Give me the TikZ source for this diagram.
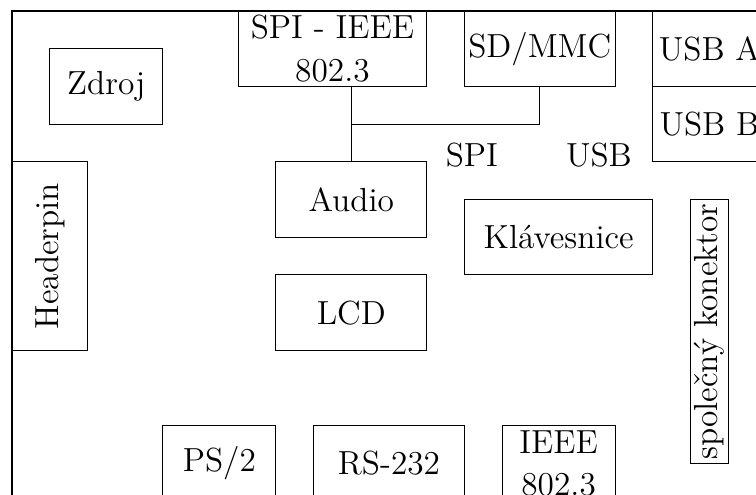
\documentclass[tikz,border=0pt]{standalone}
\usepackage{fontspec}
\begin{document}
\begin{tikzpicture}[x=0.5cm,y=-0.5cm,line width=0.4pt,
  every node/.style={font=\fontsize{12.6}{16}\selectfont},
  box/.style={draw,inner sep=0pt,align=center},
  lbl/.style={inner sep=0pt}]
\useasboundingbox (-0.318,-0.292) rectangle (19.735,12.838);
% outer frame
\draw (0,14) -- (0,0) -- (21,0);
% boxes
\node[box,minimum width=1.5cm,minimum height=1cm] (zdroj) at (2.5,2) {Zdroj};
\node[box,minimum width=2.5cm,minimum height=1cm] (spi) at (8.5,1) {SPI - IEEE\\802.3};
\node[box,minimum width=2cm,minimum height=1cm] (sd) at (14,1) {SD/MMC};
\node[box,minimum width=1.5cm,minimum height=1cm] (usba) at (18.5,1) {USB A};
\node[box,minimum width=1.5cm,minimum height=1cm] (usbb) at (18.5,3) {USB B};
\node[box,minimum width=2.5cm,minimum height=1cm,rotate=90] (head) at (1,6.5) {Headerpin};
\node[box,minimum width=2cm,minimum height=1cm] (audio) at (9,5) {Audio};
\node[box,minimum width=2.5cm,minimum height=1cm] (klav) at (14.5,6) {Klávesnice};
\node[box,minimum width=3.5cm,minimum height=0.5cm,rotate=90] (kon) at (18.5,8.5) {\makebox[0pt]{společný konektor}};
\node[box,minimum width=2cm,minimum height=1cm] (lcd) at (9,8) {LCD};
\node[box,minimum width=1.5cm,minimum height=1cm] (ps) at (5.5,12) {PS/2};
\node[box,minimum width=2cm,minimum height=1cm] (rs) at (10,12) {RS-232};
\node[box,minimum width=1.5cm,minimum height=1cm] (ieee) at (14.5,12) {IEEE\\802.3};
% labels
\node[lbl] (lspi) at (12.2,3.82) {SPI};
\node[lbl] (lusb) at (15.57,3.82) {USB};
% connectors
\coordinate (jn) at (9,3);
\draw (audio.north |- spi.south) -- (audio.north);
\draw (sd.south) |- (jn);
\end{tikzpicture}
\end{document}
